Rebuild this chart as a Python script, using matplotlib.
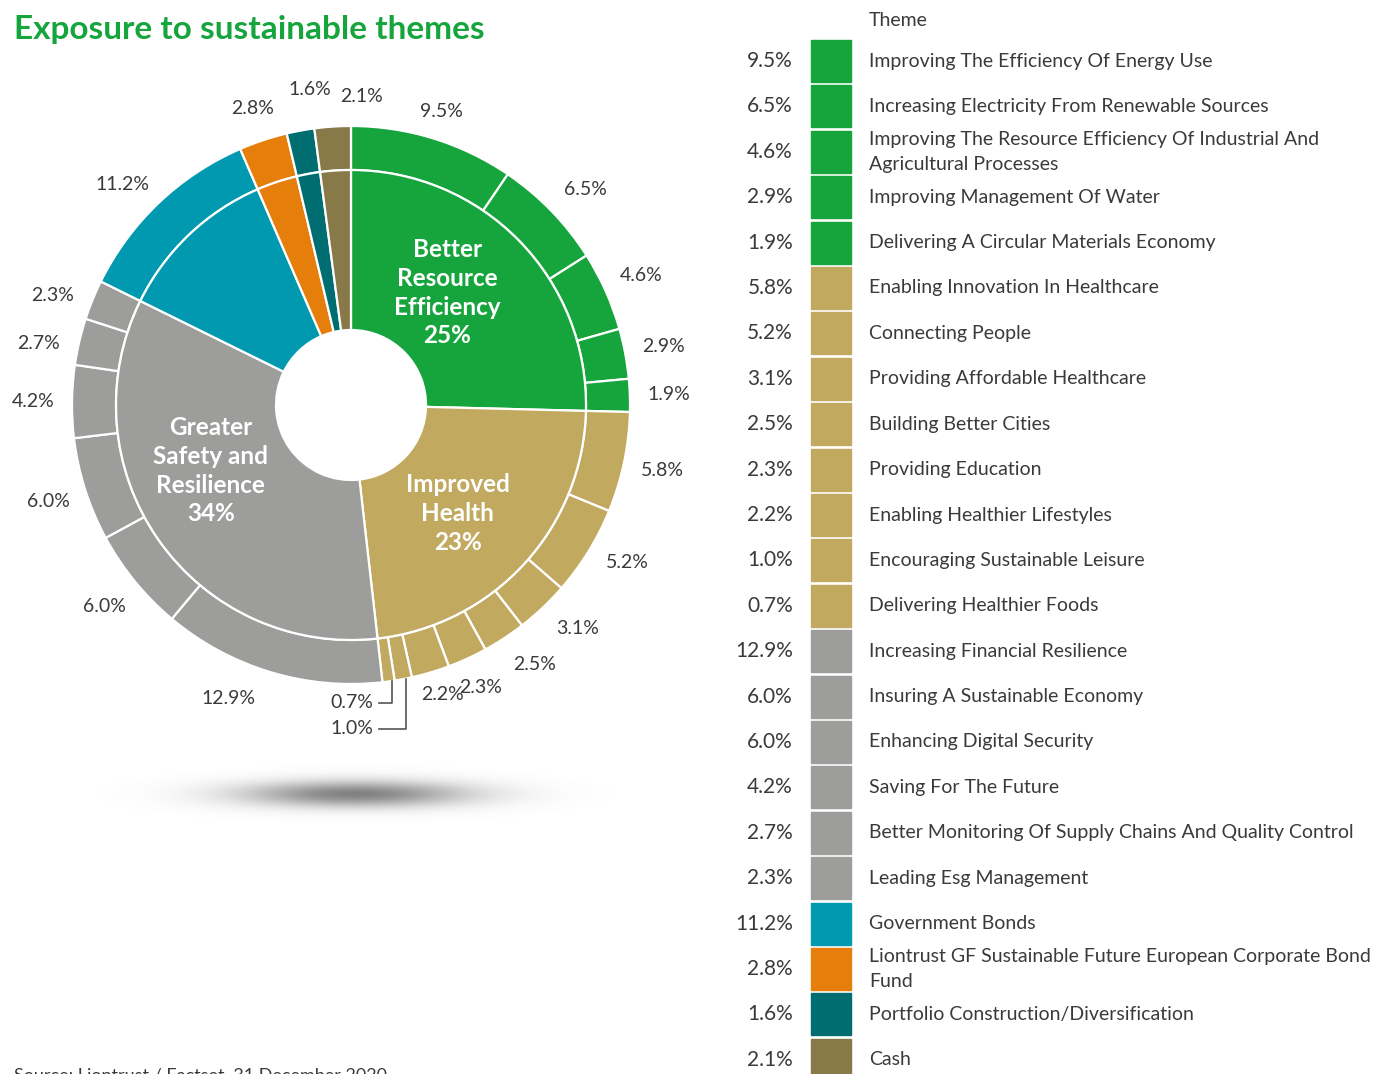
import numpy as np
import matplotlib.pyplot as plt
from matplotlib.patches import Rectangle

plt.rcParams['font.family'] = ['Lato', 'DejaVu Sans']

# Themes (outer ring), in drawing order clockwise from 12 o'clock
themes = [
    "Improving The Efficiency Of Energy Use",
    "Increasing Electricity From Renewable Sources",
    "Improving The Resource Efficiency Of Industrial And\nAgricultural Processes",
    "Improving Management Of Water",
    "Delivering A Circular Materials Economy",
    "Enabling Innovation In Healthcare",
    "Connecting People",
    "Providing Affordable Healthcare",
    "Building Better Cities",
    "Providing Education",
    "Enabling Healthier Lifestyles",
    "Encouraging Sustainable Leisure",
    "Delivering Healthier Foods",
    "Increasing Financial Resilience",
    "Insuring A Sustainable Economy",
    "Enhancing Digital Security",
    "Saving For The Future",
    "Better Monitoring Of Supply Chains And Quality Control",
    "Leading Esg Management",
    "Government Bonds",
    "Liontrust GF Sustainable Future European Corporate Bond\nFund",
    "Portfolio Construction/Diversification",
    "Cash",
]
theme_pct = [9.5, 6.5, 4.6, 2.9, 1.9,
             5.8, 5.2, 3.1, 2.5, 2.3, 2.2, 1.0, 0.7,
             12.9, 6.0, 6.0, 4.2, 2.7, 2.3,
             11.2, 2.8, 1.6, 2.1]
theme_group = [0] * 5 + [1] * 8 + [2] * 6 + [3, 4, 5, 6]

# Groups (inner ring)
groups = ["Better\nResource\nEfficiency", "Improved\nHealth",
          "Greater\nSafety and\nResilience", "Government Bonds",
          "Liontrust GF", "Portfolio Construction", "Cash"]
group_pct_label = [25, 23, 34, None, None, None, None]
group_colors = ["#16a53d", "#c2a960", "#9d9d9c", "#0099af",
                "#e67e0c", "#006d70", "#877a48"]

group_pct = [sum(p for p, g in zip(theme_pct, theme_group) if g == i)
             for i in range(len(groups))]
theme_colors = [group_colors[g] for g in theme_group]

W, H = 1376, 1074
fig = plt.figure(figsize=(W / 100, H / 100), dpi=100)
ax = fig.add_axes([0, 0, 1, 1])

cx, cy = 351, H - 405
R_out, R_mid, R_hole = 279, 235, 75
edge = dict(edgecolor="white", linewidth=1.6)

# soft shadow under the pie
sx = np.linspace(40, 670, 630)
sy = np.linspace(750, 840, 90)
SX, SY = np.meshgrid(sx, sy)
shade = np.exp(-((SX - 355) / 112) ** 2 - ((SY - 794) / 13) ** 2)
rgba = np.zeros(shade.shape + (4,))
rgba[..., :3] = 0.42
rgba[..., 3] = 0.85 * shade
ax.imshow(rgba, extent=(40, 670, H - 840, H - 750), zorder=0,
          aspect="auto", interpolation="bilinear")

ax.pie(theme_pct, radius=R_out, center=(cx, cy), startangle=90,
       counterclock=False, colors=theme_colors,
       wedgeprops=dict(width=R_out - R_mid, **edge))
ax.pie(group_pct, radius=R_mid, center=(cx, cy), startangle=90,
       counterclock=False, colors=group_colors,
       wedgeprops=dict(width=R_mid - R_hole, **edge))

txt = "#3a3a3a"
small = dict(fontsize=14, color=txt)

# percentage labels around the ring (a few nudged apart)
cum = np.cumsum([0] + theme_pct[:-1])
label_r = {0: 307, 9: 311, 10: 304, 20: 312, 22: 309}
label_da = {1: 1.5, 6: -2, 7: -2, 8: -2, 10: -1, 13: 6, 17: -2, 18: -2,
            19: -2.5, 21: 3, 22: 5.7}
for i, p in enumerate(theme_pct):
    mid = (cum[i] + p / 2) / 100 * 360
    if p < 1.5:
        # leader lines for the two smallest slices
        a = np.radians(mid)
        x0, y0 = cx + R_out * np.sin(a), cy + R_out * np.cos(a)
        yl = H - (703 if p < 0.9 else 729)
        ax.plot([x0 + 3, x0 + 3, 379], [y0, yl, yl], color="#555555", lw=1.2)
        ax.text(373, yl, f"{p:.1f}%", ha="right", va="center", **small)
        continue
    a = np.radians(mid + label_da.get(i, 0))
    r = label_r.get(i, 318)
    ax.text(cx + r * np.sin(a), cy + r * np.cos(a), f"{p:.1f}%",
            ha="center", va="center", **small)

# group names inside the inner ring
gcum = np.cumsum([0] + group_pct[:-1])
name_da = [-5, 3, 10]
name_r = [148, 152, 155]
for i, name in enumerate(groups):
    if group_pct_label[i] is None:
        continue
    mid = np.radians((gcum[i] + group_pct[i] / 2) / 100 * 360 + name_da[i])
    ax.text(cx + name_r[i] * np.sin(mid), cy + name_r[i] * np.cos(mid),
            f"{name}\n{group_pct_label[i]}%", ha="center", va="center",
            fontsize=17.5, color="white", fontweight="bold", linespacing=1.3)

# legend table
ax.text(869, H - 20, "Theme", fontsize=14, color=txt, va="center")
row0, step = 61, 45.4
for i, (name, p) in enumerate(zip(themes, theme_pct)):
    y = H - (row0 + i * step)
    ax.add_patch(Rectangle((811, y - 21), 40, 42, color=theme_colors[i]))
    ax.text(793, y, f"{p:.1f}%", ha="right", va="center", fontsize=15,
            color=txt)
    ax.text(869, y, name, ha="left", va="center", fontsize=14.0, color=txt,
            linespacing=1.55)

ax.text(14, H - 30, "Exposure to sustainable themes", fontsize=24,
        color="#16a53d", fontweight="bold", va="center")
ax.text(14, H - 1068, "Source: Liontrust / Factset, 31 December 2020",
        fontsize=13, color=txt, va="top")

ax.set_xlim(0, W)
ax.set_ylim(0, H)
ax.set_aspect("auto")
ax.axis("off")
fig.savefig("out.png", dpi=100)
